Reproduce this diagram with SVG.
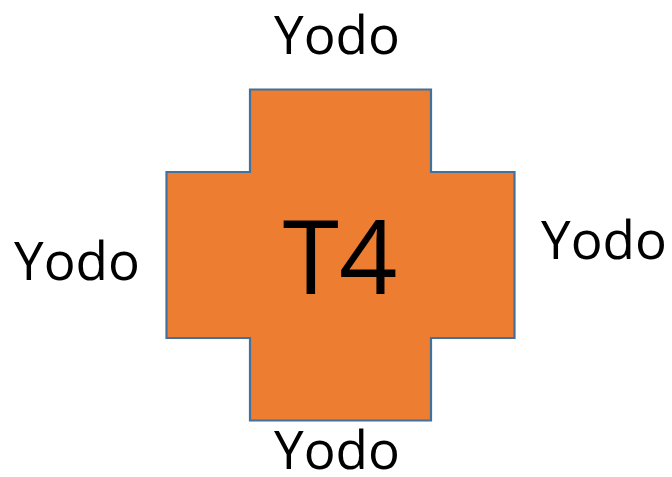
<svg xmlns="http://www.w3.org/2000/svg" width="672" height="477" viewBox="0 0 672 477">
<style>
.lbl{font-family:"Open Sans","Liberation Sans",sans-serif;font-size:53px;fill:#000;text-anchor:middle}
.big{font-family:"Open Sans","Liberation Sans",sans-serif;font-size:102px;fill:#000;text-anchor:middle}
</style>
<rect width="672" height="477" fill="#fff"/>
<g id="cross">
<path d="M250,89.5 H431 V172 H514.5 V338 H431 V420.5 H250 V338 H166.5 V172 H250 Z" fill="#ED7D31" stroke="#41719C" stroke-width="2.2"/>
<text class="big" x="340" y="294">T4</text>
</g>
<g id="top"><text class="lbl" x="337" y="54">Yodo</text></g>
<g id="left"><text class="lbl" x="77" y="280">Yodo</text></g>
<g id="right"><text class="lbl" x="604" y="259">Yodo</text></g>
<g id="bottom"><text class="lbl" x="337" y="469">Yodo</text></g>
<g id="connectors"></g>
</svg>
